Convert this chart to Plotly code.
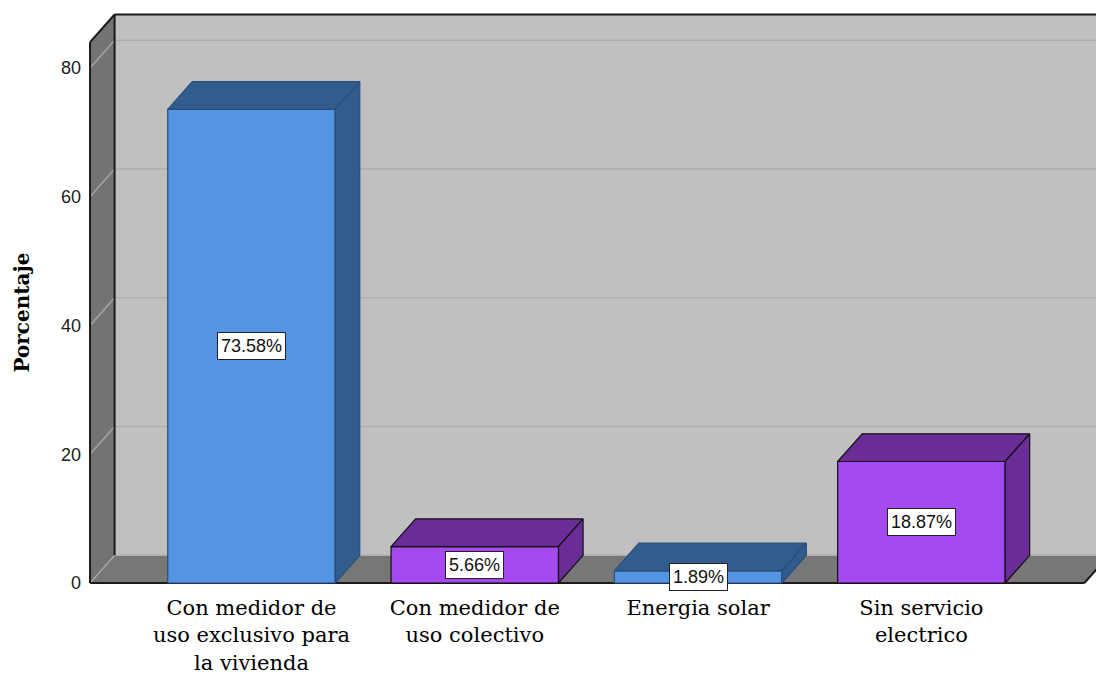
import plotly.graph_objects as go

# ---- data ----
categories = ["Con medidor de<br>uso exclusivo para<br>la vivienda",
              "Con medidor de<br>uso colectivo",
              "Energia solar",
              "Sin servicio<br>electrico"]
values = [73.58, 5.66, 1.89, 18.87]
y_ticks = [0, 20, 40, 60, 80]

# ---- styles ----
front_colors = ["#5394E3", "#A54AF1", "#5394E3", "#A54AF1"]
dark_colors = ["#335C8E", "#6A2C97", "#335C8E", "#6A2C97"]
edge_colors = ["#2A4E7A", "#111111", "#2A4E7A", "#111111"]
BAR_W = 0.75
DX, DY = 0.11, 4.3          # depth offset (category units, value units)
X0, X1 = -0.723, 3.73       # floor front edge extent
YTOP = 84.0
XR = 4.2                    # back wall extends beyond the visible area

fig = go.Figure()

shapes = []
def path(pts):
    return "M " + " L ".join(f"{x},{y}" for x, y in pts) + " Z"

# back wall
shapes.append(dict(type="path", layer="below", xref="x", yref="y",
                   path=path([(X0 + DX, DY), (XR, DY), (XR, YTOP + DY), (X0 + DX, YTOP + DY)]),
                   fillcolor="#C0C0C0", line=dict(width=0)))
# floor
shapes.append(dict(type="path", layer="below", xref="x", yref="y",
                   path=path([(X0, 0), (X1, 0), (X1 + DX, DY), (X0 + DX, DY)]),
                   fillcolor="#777777", line=dict(width=0)))
# left wall
shapes.append(dict(type="path", layer="below", xref="x", yref="y",
                   path=path([(X0, 0), (X0 + DX, DY), (X0 + DX, YTOP + DY), (X0, YTOP)]),
                   fillcolor="#737373", line=dict(width=0)))
# grid lines
for v in y_ticks:
    shapes.append(dict(type="line", layer="below", xref="x", yref="y",
                       x0=X0 + DX, y0=v + DY, x1=XR, y1=v + DY,
                       line=dict(color="#AEAEAE", width=1.5)))
    shapes.append(dict(type="line", layer="below", xref="x", yref="y",
                       x0=X0, y0=v, x1=X0 + DX, y1=v + DY,
                       line=dict(color="#A5A5A5", width=1.5)))
# dark edges
edge = dict(color="#1A1A1A", width=2)
for (xa, ya, xb, yb) in [(X0 + DX, YTOP + DY, XR, YTOP + DY),
                         (X0, YTOP, X0 + DX, YTOP + DY),
                         (X0 + DX, DY, X0 + DX, YTOP + DY),
                         (X0, 0, X0, YTOP),
                         (X0, 0, X1, 0),
                         (X1, 0, X1 + DX, DY)]:
    shapes.append(dict(type="line", layer="below", xref="x", yref="y",
                       x0=xa, y0=ya, x1=xb, y1=yb, line=edge))

xs = list(range(len(categories)))

# front faces
fig.add_trace(go.Bar(x=xs, y=values, width=BAR_W,
                     marker=dict(color=front_colors,
                                 line=dict(color=edge_colors, width=1.2)),
                     hoverinfo="skip", showlegend=False))

# top and side faces
for i, v in enumerate(values):
    l, r = i - BAR_W / 2, i + BAR_W / 2
    top = [(l, v), (r, v), (r + DX, v + DY), (l + DX, v + DY), (l, v)]
    side = [(r, 0), (r + DX, DY), (r + DX, v + DY), (r, v), (r, 0)]
    for face in (top, side):
        fig.add_trace(go.Scatter(x=[p[0] for p in face], y=[p[1] for p in face],
                                 mode="lines", fill="toself",
                                 fillcolor=dark_colors[i],
                                 line=dict(color=edge_colors[i], width=1.2),
                                 hoverinfo="skip", showlegend=False))

annotations = []
for i, v in enumerate(values):
    annotations.append(dict(x=i, y=v / 2, xref="x", yref="y", text=f"{v:.2f}%",
                            showarrow=False, bgcolor="white", bordercolor="#222222",
                            borderwidth=1, borderpad=3,
                            font=dict(family="Liberation Sans", size=18, color="#111111")))
annotations.append(dict(x=-0.0613, xref="paper", y=42, yref="y", text="<b>Porcentaje</b>",
                        textangle=-90, showarrow=False, xanchor="center", yanchor="middle",
                        font=dict(family="DejaVu Serif", size=20, color="black")))

fig.update_layout(
    width=1096, height=675,
    margin=dict(l=84, r=0, t=10, b=88),
    paper_bgcolor="white", plot_bgcolor="white",
    shapes=shapes, annotations=annotations,
    xaxis=dict(range=[-0.750, 3.782], tickvals=xs, ticktext=categories,
               showgrid=False, zeroline=False, showline=False, ticks="",
               ticklabelstandoff=6,
               tickfont=dict(family="DejaVu Serif", size=21, color="black"),
               fixedrange=True),
    yaxis=dict(range=[-0.62, 89.0], tickvals=y_ticks,
               showgrid=False, zeroline=False, showline=False, ticks="",
               ticklabelstandoff=2,
               tickfont=dict(family="Liberation Sans", size=18, color="#222222"),
               fixedrange=True),
)

fig.write_html("out.html",
               config={"displayModeBar": False},
               post_script="document.body.style.margin='0';document.body.style.overflow='hidden';")
